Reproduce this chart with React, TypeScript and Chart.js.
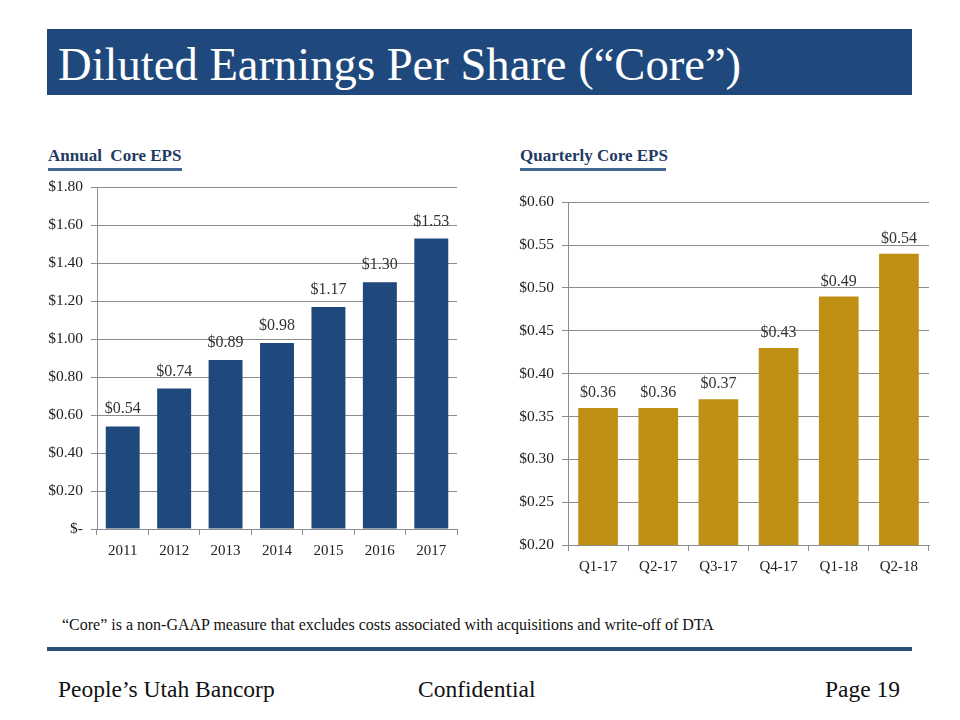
import React, { useEffect, useRef } from "react";
import { Chart, registerables } from "chart.js";

Chart.register(...registerables);

const annualYears = ["2011", "2012", "2013", "2014", "2015", "2016", "2017"];
const annualEps = [0.54, 0.74, 0.89, 0.98, 1.17, 1.3, 1.53];

const quarters = ["Q1-17", "Q2-17", "Q3-17", "Q4-17", "Q1-18", "Q2-18"];
const quarterlyEps = [0.36, 0.36, 0.37, 0.43, 0.49, 0.54];

const FONT = '"Liberation Serif", "Times New Roman", serif';
const GRID = "#8c8c8c";

const fmt = (v: number) => (Math.abs(v) < 1e-9 ? "$-" : "$" + v.toFixed(2));

function makeLabelPlugin(offset: number) {
  return {
    id: "barLabels",
    afterDatasetsDraw(chart: any) {
      const ctx = chart.ctx;
      const meta = chart.getDatasetMeta(0);
      const data = chart.data.datasets[0].data as number[];
      ctx.save();
      ctx.font = `16px ${FONT}`;
      ctx.fillStyle = "#333333";
      ctx.textAlign = "center";
      ctx.textBaseline = "alphabetic";
      meta.data.forEach((bar: any, i: number) => {
        ctx.fillText("$" + data[i].toFixed(2), bar.x, bar.y - offset);
      });
      ctx.restore();
    },
  };
}

function buildConfig(
  labels: string[],
  values: number[],
  color: string,
  min: number,
  max: number,
  step: number,
  yWidth: number,
  xHeight: number,
  padTop: number,
  padRight: number,
  labelOffset: number
): any {
  return {
    type: "bar",
    data: {
      labels,
      datasets: [
        {
          data: values,
          backgroundColor: color,
          borderWidth: 0,
          barPercentage: 0.66,
          categoryPercentage: 1,
        },
      ],
    },
    options: {
      animation: false,
      responsive: false,
      maintainAspectRatio: false,
      layout: { padding: { top: padTop, right: padRight, left: 0, bottom: 0 } },
      plugins: { legend: { display: false }, tooltip: { enabled: false } },
      scales: {
        x: {
          grid: {
            display: true,
            drawOnChartArea: false,
            drawTicks: true,
            tickLength: 6,
            color: GRID,
            offset: true,
          },
          border: { display: true, color: GRID, width: 1 },
          ticks: {
            color: "#222222",
            font: { family: FONT, size: 15 },
            padding: 7,
            maxRotation: 0,
          },
          afterFit: (s: any) => {
            s.height = xHeight;
          },
        },
        y: {
          min,
          max,
          ticks: {
            stepSize: step,
            color: "#222222",
            font: { family: FONT, size: 15.5 },
            padding: 8,
            callback: (v: any) => fmt(Number(v)),
          },
          grid: { color: GRID, tickLength: 6, drawTicks: true },
          border: { display: true, color: GRID, width: 1 },
          afterFit: (s: any) => {
            s.width = yWidth;
          },
        },
      },
    },
    plugins: [makeLabelPlugin(labelOffset)],
  };
}

function BarChart(props: {
  left: number;
  top: number;
  width: number;
  height: number;
  config: any;
}) {
  const ref = useRef<HTMLCanvasElement | null>(null);
  useEffect(() => {
    if (!ref.current) return;
    const chart = new Chart(ref.current, props.config);
    return () => chart.destroy();
  }, []);
  return (
    <div
      style={{
        position: "absolute",
        left: props.left,
        top: props.top,
        width: props.width,
        height: props.height,
      }}
    >
      <canvas ref={ref} width={props.width} height={props.height} />
    </div>
  );
}

const textStyle = (
  left: number,
  top: number,
  size: number,
  color: string,
  extra: any = {}
): any => ({
  position: "absolute",
  left,
  top,
  fontFamily: FONT,
  fontSize: size,
  lineHeight: 1,
  color,
  whiteSpace: "nowrap",
  ...extra,
});

export default function App() {
  const annualCfg = buildConfig(
    annualYears,
    annualEps,
    "#1F497D",
    0,
    1.8,
    0.2,
    57,
    41,
    14,
    13,
    13
  );
  const quarterCfg = buildConfig(
    quarters,
    quarterlyEps,
    "#BF9013",
    0.2,
    0.6,
    0.05,
    68,
    40,
    15,
    21,
    11
  );
  return (
    <div
      style={{
        position: "absolute",
        left: 0,
        top: 0,
        width: 960,
        height: 720,
        background: "#ffffff",
        overflow: "hidden",
      }}
    >
      <div
        style={{
          position: "absolute",
          left: 47,
          top: 29,
          width: 865,
          height: 66,
          background: "#1F497D",
        }}
      />
      <div style={textStyle(58, 41, 46.6, "#ffffff")}>
        Diluted Earnings Per Share (“Core”)
      </div>

      <div style={textStyle(48, 147, 17, "#1F3B63", { fontWeight: "bold" })}>
        Annual&nbsp; Core EPS
      </div>
      <div
        style={{
          position: "absolute",
          left: 48,
          top: 168,
          width: 134,
          height: 3,
          background: "#41668F",
        }}
      />
      <div style={textStyle(520, 147, 17, "#1F3B63", { fontWeight: "bold" })}>
        Quarterly Core EPS
      </div>
      <div
        style={{
          position: "absolute",
          left: 520,
          top: 168,
          width: 146,
          height: 3,
          background: "#41668F",
        }}
      />

      <BarChart left={40} top={170} width={430} height={400} config={annualCfg} />
      <BarChart left={500} top={185} width={450} height={400} config={quarterCfg} />

      <div style={textStyle(62, 617, 16, "#111111")}>
        “Core” is a non-GAAP measure that excludes costs associated with acquisitions and write-off of DTA
      </div>

      <div
        style={{
          position: "absolute",
          left: 47,
          top: 647,
          width: 865,
          height: 4,
          background: "#2B4D77",
        }}
      />

      <div style={textStyle(58, 678, 23.5, "#111111")}>People’s Utah Bancorp</div>
      <div style={textStyle(418, 678, 23.5, "#111111")}>Confidential</div>
      <div style={textStyle(700, 678, 23.5, "#111111", { width: 200, textAlign: "right" })}>
        Page 19
      </div>
    </div>
  );
}
